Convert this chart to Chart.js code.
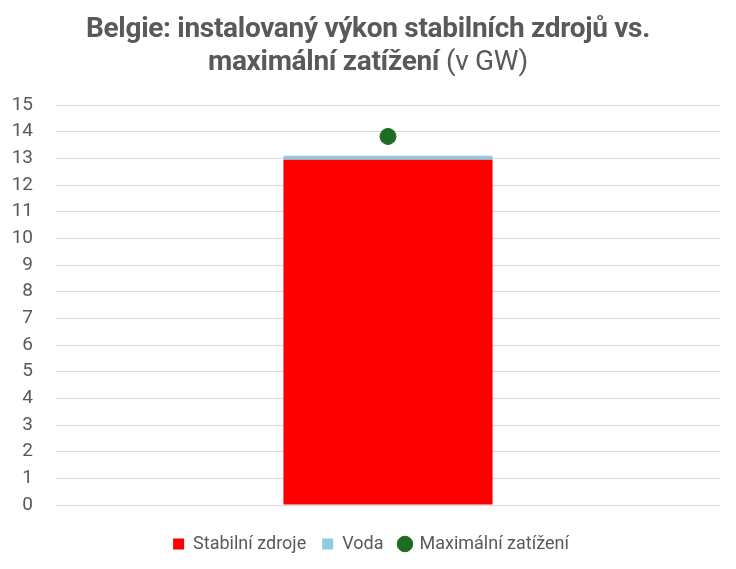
<!DOCTYPE html>
<html><head><meta charset="utf-8">
<script src="https://cdn.jsdelivr.net/npm/chart.js@4/dist/chart.umd.min.js"></script>
<style>
html,body{margin:0;padding:0;background:#fff;}
#wrap{position:relative;width:736px;height:569px;}
#title{position:absolute;left:0;top:11px;width:736px;text-align:center;font-family:Roboto,"Open Sans",sans-serif;font-size:28px;line-height:33px;color:#595959;font-weight:700;letter-spacing:-0.3px;}
#title span{font-weight:400;}
canvas{position:absolute;left:0;top:0;}
</style></head>
<body><div id="wrap">
<canvas id="c" width="736" height="569"></canvas>
<div id="title">Belgie: instalovaný výkon stabilních zdrojů vs.<br>maximální zatížení <span>(v GW)</span></div>
</div>
<script>
const categories = [""];
const stabilniZdroje = [12.95];
const voda = [0.15];
const maximalniZatizeni = [13.82];
const yTicks = [0,1,2,3,4,5,6,7,8,9,10,11,12,13,14,15];

const legendShift = {
  id:'legendShift',
  afterLayout(chart){ if(chart.legend){ chart.legend.left += 11; chart.legend.right += 11; } }
};

new Chart(document.getElementById('c'), {
  data: {
    labels: categories,
    datasets: [
      {type:'bar', label:'Stabilní zdroje', data:stabilniZdroje, stack:'s', backgroundColor:'#ff0000', pointStyle:'rect', order:1,
       barPercentage:0.315, categoryPercentage:1},
      {type:'bar', label:'Voda', data:voda, stack:'s', backgroundColor:'#8ccbe0', pointStyle:'rect', order:2,
       barPercentage:0.315, categoryPercentage:1},
      {type:'line', label:'Maximální zatížení', data:maximalniZatizeni, stack:'m', showLine:false,
       pointRadius:8, pointHoverRadius:8, backgroundColor:'#1e6b24', borderColor:'#1e6b24', pointStyle:'circle', order:0}
    ]
  },
  plugins:[legendShift],
  options: {
    responsive:false, animation:false,
    layout:{padding:{top:105,left:0,right:16,bottom:6}},
    scales:{
      x:{stacked:true, grid:{display:false}, border:{display:false}, ticks:{display:false}},
      y:{stacked:true, min:0, max:15, afterBuildTicks:(s)=>{s.ticks=yTicks.map(v=>({value:v}));},
         afterFit:(s)=>{s.width=56;},
         grid:{color:'#d9d9d9', drawTicks:false}, border:{display:false},
         ticks:{color:'#595959', padding:23, font:{family:'Roboto', size:19}}}
    },
    plugins:{
      title:{display:false},
      tooltip:{enabled:false},
      legend:{position:'bottom',
        title:{display:true, text:' ', font:{size:5}, padding:0},
        labels:{color:'#595959', usePointStyle:true, boxHeight:11, boxWidth:11, padding:16,
          font:{family:'Roboto', size:18},
          sort:(a,b)=>a.datasetIndex-b.datasetIndex}
      }
    }
  }
});
</script>
</body></html>
